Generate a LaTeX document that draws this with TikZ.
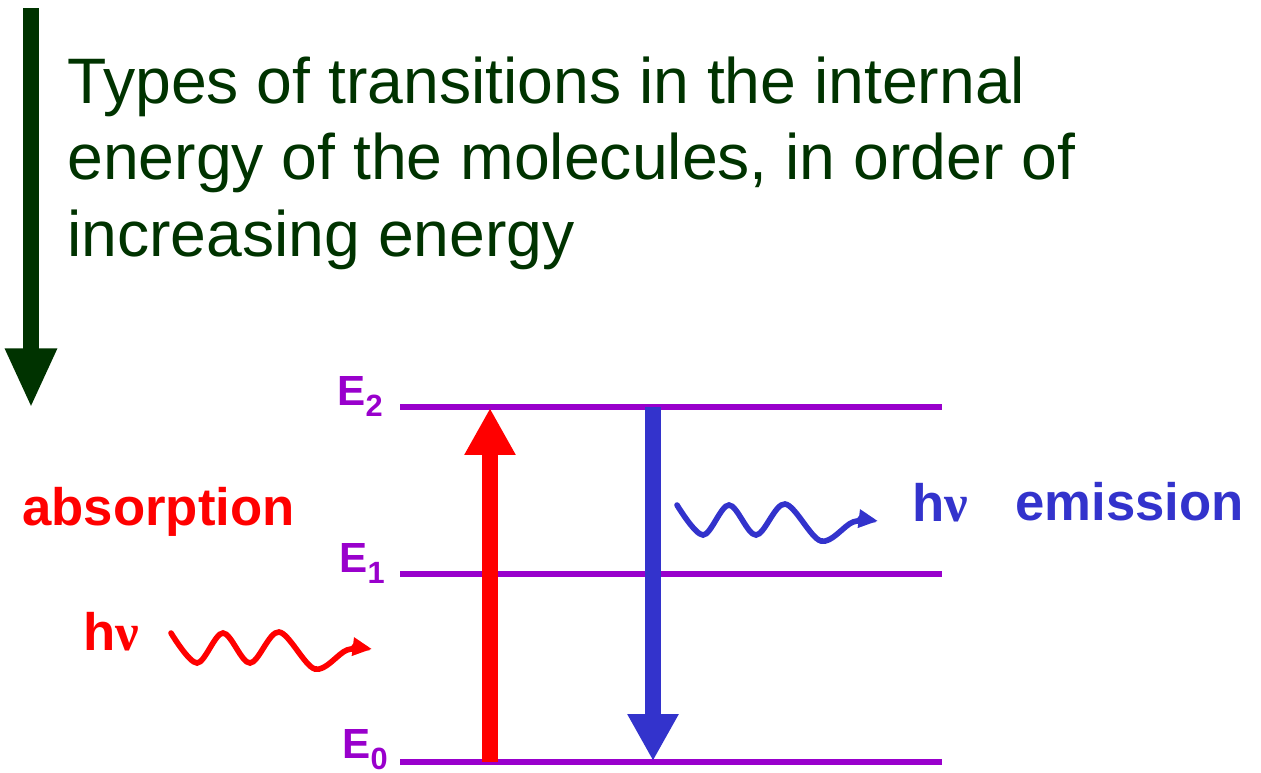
\documentclass[tikz,border=0pt]{standalone}
\usepackage{fontspec}
\setmainfont{Liberation Sans}
\newfontfamily\greekfont{Liberation Serif}
\usepackage{tikz}
\usetikzlibrary{arrows.meta, positioning}
\definecolor{titlegreen}{RGB}{0,51,0}
\definecolor{levelpurple}{RGB}{153,0,204}
\definecolor{emitblue}{RGB}{51,51,204}
\definecolor{absred}{RGB}{255,0,0}
\newcommand{\levelsub}[1]{\raisebox{-6.5pt}{\fontsize{17.5}{18}\selectfont #1}}

\begin{document}
\begin{tikzpicture}[
        x=0.02cm, y=-0.02cm,
        level/.style = {draw=levelpurple, line width=3.4pt},
        levellabel/.style = {anchor=base east, text=levelpurple, inner sep=0pt, font=\fontsize{24}{28}\selectfont\bfseries},
        bigarrow/.style = {line width=9.1pt, -{Triangle[length=26.7pt, width=27.3pt]}},
        wave/.style = {line width=3.2pt, line cap=round, -{Triangle[length=11pt, width=10pt]}},
        label/.style = {anchor=base west, inner sep=0pt, font=\fontsize{30}{34}\selectfont\bfseries},
        photon/.style = {label}
    ]
        \useasboundingbox (0,0) rectangle (1261,772);

        % Title and energy arrow
        \node (title) [anchor=base west, inner sep=0pt, align=left, text=titlegreen,
            font=\fontsize{36.6}{43.3}\selectfont] at (67,256)
            {Types of transitions in the internal\\energy of the molecules, in order of\\increasing energy};
        \coordinate (top) at (31,8);
        \coordinate (bottom) at (31,408);
        \draw [titlegreen, line width=9.1pt, -{Triangle[length=34pt, width=27.3pt]}] (top) -- (bottom);

        % Energy levels
        \coordinate (e2l) at (400,407);  \coordinate (e2r) at (942,407);
        \coordinate (e1l) at (400,574);  \coordinate (e1r) at (942,574);
        \coordinate (e0l) at (400,762);  \coordinate (e0r) at (942,762);
        \draw [level] (e2l) -- (e2r);
        \draw [level] (e1l) -- (e1r);
        \draw [level] (e0l) -- (e0r);
        \node (E2) [levellabel] at (383,405) {E\levelsub{2}};
        \node (E1) [levellabel] at (385,572) {E\levelsub{1}};
        \node (E0) [levellabel] at (388,758) {E\levelsub{0}};

        % Transitions
        \coordinate (up0) at (490,762);
        \coordinate (up2) at (490,408);
        \coordinate (down2) at (653,407);
        \coordinate (down0) at (653,761);
        \draw [bigarrow, absred] (up0) -- (up2);
        \draw [bigarrow, emitblue] (down2) -- (down0);

        % Absorption side
        \node (absorption) [label, text=absred] at (22,525) {absorption};
        \node (hvin) [photon, text=absred] at (83,650) {h{\greekfont ν}};
        \draw [wave, absred] plot [smooth, tension=0.55] coordinates
            {(171,633) (197,663) (223,633) (250,663) (279,632) (315,669) (347,650) (372,649)};

        % Emission side
        \node (hvout) [photon, text=emitblue] at (912,521) {h{\greekfont ν}};
        \node (emission) [label, text=emitblue] at (1015,520) {emission};
        \draw [wave, emitblue, shift={(506,-128)}] plot [smooth, tension=0.55] coordinates
            {(171,633) (197,663) (223,633) (250,663) (279,632) (315,669) (347,650) (372,649)};

    \end{tikzpicture}
\end{document}
